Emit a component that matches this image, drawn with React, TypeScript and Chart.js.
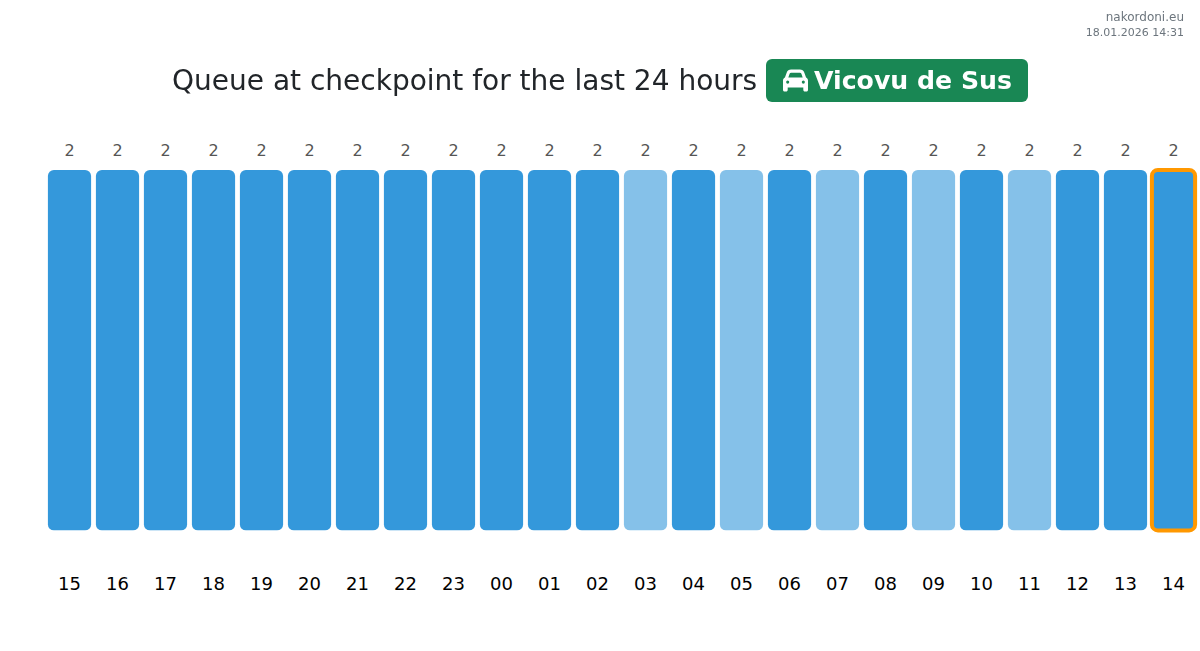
import React, { useEffect, useRef } from "react";
import { Chart, registerables } from "chart.js";

Chart.register(...registerables);

const hours = ["15","16","17","18","19","20","21","22","23","00","01","02","03","04","05","06","07","08","09","10","11","12","13","14"];
const queue = [2,2,2,2,2,2,2,2,2,2,2,2,2,2,2,2,2,2,2,2,2,2,2,2];
const estimated = [false,false,false,false,false,false,false,false,false,false,false,false,true,false,true,false,true,false,true,false,true,false,false,false];
const currentHour = "14";
const titleText = "Queue at checkpoint for the last 24 hours";
const checkpoint = "Vicovu de Sus";
const siteName = "nakordoni.eu";
const stamp = "18.01.2026 14:31";

const FONT = "'DejaVu Sans', sans-serif";
const CAR = "M135.2 117.4L109.1 192H402.9l-26.1-74.6C372.3 104.6 360.2 96 346.6 96H165.4c-13.6 0-25.7 8.6-30.2 21.4zM39.6 196.8L74.8 96.3C88.3 57.8 124.6 32 165.4 32H346.6c40.8 0 77.1 25.8 90.6 64.3l35.2 100.5c23.2 9.6 39.6 32.5 39.6 59.2V400v48c0 17.7-14.3 32-32 32H448c-17.7 0-32-14.3-32-32V400H96v48c0 17.7-14.3 32-32 32H32c-17.7 0-32-14.3-32-32V400 256c0-26.7 16.4-49.6 39.6-59.2zM128 288a32 32 0 1 0 -64 0 32 32 0 1 0 64 0zm288 32a32 32 0 1 0 0-64 32 32 0 1 0 0 64z";

const overlay = {
  id: "overlay",
  beforeDraw(chart: any) {
    const { ctx, width, height } = chart;
    ctx.save();
    ctx.fillStyle = "#ffffff";
    ctx.fillRect(0, 0, width, height);
    ctx.restore();
  },
  afterDatasetsDraw(chart: any) {
    const { ctx } = chart;
    const bars = chart.getDatasetMeta(0).data;
    ctx.save();
    ctx.font = "16px " + FONT;
    ctx.fillStyle = "#555555";
    ctx.textAlign = "center";
    ctx.textBaseline = "bottom";
    bars.forEach((bar: any, i: number) => {
      ctx.fillText(String(queue[i]), bar.x, bar.y - 10);
    });
    const idx = hours.lastIndexOf(currentHour);
    const b = bars[idx];
    const w = b.width;
    ctx.strokeStyle = "#ff9800";
    ctx.lineWidth = 4;
    ctx.beginPath();
    ctx.roundRect(b.x - w / 2, b.y, w, b.base - b.y, 6);
    ctx.stroke();
    ctx.restore();
  },
};

export default function App() {
  const ref = useRef<HTMLCanvasElement | null>(null);
  useEffect(() => {
    const canvas = ref.current!;
    canvas.getContext("2d", { alpha: false });
    const chart = new Chart(canvas, {
      type: "bar",
      data: {
        labels: hours,
        datasets: [{
          data: queue,
          backgroundColor: estimated.map((e) => (e ? "#85c1e9" : "#3498db")),
          borderRadius: 6,
          borderSkipped: false,
          barPercentage: 0.9,
          categoryPercentage: 1,
        }],
      },
      options: {
        animation: false,
        responsive: false,
        devicePixelRatio: 1,
        layout: { padding: { left: 45.5, right: 2.5, top: 170, bottom: 19 } },
        plugins: { legend: { display: false }, tooltip: { enabled: false }, title: { display: false } },
        scales: {
          x: {
            afterFit: (s: any) => { s.paddingLeft = 0; s.paddingRight = 0; },
            grid: { display: false },
            border: { display: false },
            ticks: { font: { family: FONT, size: 18 }, color: "#000000", padding: 36, maxRotation: 0, autoSkip: false },
          },
          y: { display: false, min: 0, max: 2 },
        },
      },
      plugins: [overlay],
    } as any);
    return () => chart.destroy();
  }, []);

  return (
    <div style={{ position: "absolute", left: 0, top: 0, width: 1200, height: 651, background: "#fff", overflow: "hidden", fontFamily: FONT }}>
      <canvas ref={ref} width={1200} height={651} style={{ position: "absolute", left: 0, top: 0, width: 1200, height: 651 }} />
      <div style={{ position: "absolute", right: 16, top: 9, textAlign: "right", color: "#6c757d", lineHeight: "16px" }}>
        <div style={{ fontSize: 12 }}>{siteName}</div>
        <div style={{ fontSize: 11 }}>{stamp}</div>
      </div>
      <div style={{ position: "absolute", left: 172, top: 59, height: 43, lineHeight: "43px", fontSize: 28, color: "#212529", whiteSpace: "nowrap" }}>{titleText}</div>
      <div style={{ position: "absolute", left: 766, top: 59, width: 262, height: 43, background: "#198754", borderRadius: 6, color: "#fff", fontWeight: 700, fontSize: 25.2, lineHeight: "43px", whiteSpace: "nowrap" }}>
        <svg viewBox="0 0 512 512" width={25} height={25} style={{ position: "absolute", left: 17, top: 9 }}>
          <path d={CAR} fill="#fff" />
        </svg>
        <span style={{ position: "absolute", left: 48, top: 0 }}>{checkpoint}</span>
      </div>
    </div>
  );
}
